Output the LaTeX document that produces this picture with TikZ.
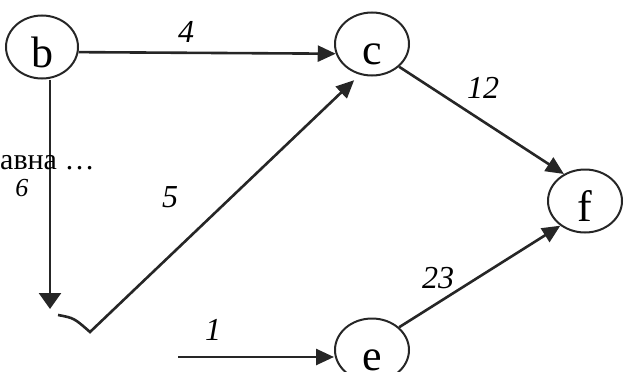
\documentclass[tikz,border=0pt]{standalone}
\usepackage{fontspec}
\setmainfont{Liberation Serif}
\usetikzlibrary{arrows.meta,shapes.geometric}

\begin{document}
\begin{tikzpicture}[x=1pt,y=-1pt,
  vert/.style={ellipse,draw=black!85,line width=2pt,minimum width=72pt,minimum height=63pt,
    inner sep=0pt,text height=40pt,text depth=0pt,font=\fontsize{44}{46}\selectfont},
  wt/.style={inner sep=0pt,font=\itshape\fontsize{32}{34}\selectfont},
  arc/.style={draw=black!85,line width=2.6pt,-{Triangle[length=18pt,width=16pt]}}]
\useasboundingbox (0,0) rectangle (624,372);
% vertices
\node[vert] (b) at (42,47) {b};
\node[vert,minimum width=74pt] (c) at (372,44) {c};
\node[vert,minimum width=74pt] (f) at (585,201) {f};
\node[vert,minimum width=74pt] (e) at (372,350) {e};
% free ends
\coordinate (bdn) at (50,309);
\coordinate (k1) at (58,315);
\coordinate (k2) at (90,332);
\coordinate (src) at (178,357);
% arcs
\draw[arc] (b.-8) -- (c.195);
\draw[arc,-{Triangle[length=16pt,width=22pt]}] (b.south -| bdn) -- (bdn);
\draw[arc] (k1) .. controls (74,318) .. (k2) -- ([shift={(-1,7)}]c.240);
\draw[arc] (c.-40) -- (f.128);
\draw[arc] (e.40) -- (f.225);
\draw[arc] (src) -- (src -| e.west);
% weights
\node[wt] (w4) at (186,32) {4};
\node[wt,font=\itshape\fontsize{26}{28}\selectfont] (w6) at (22,188) {6};
\node[wt] (w5) at (170,197) {5};
\node[wt] (w12) at (483,88) {12};
\node[wt] (w23) at (438,278) {23};
\node[wt] (w1) at (213,330) {1};
% caption fragment
\node[anchor=base west,inner sep=0pt,font=\fontsize{30}{32}\selectfont] (cap) at (0,169) {авна …};
\end{tikzpicture}
\end{document}
